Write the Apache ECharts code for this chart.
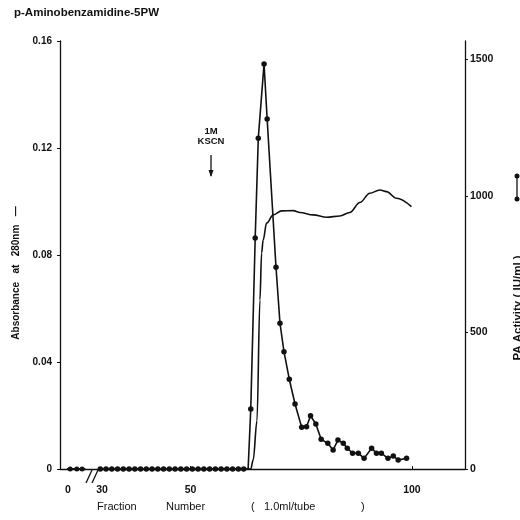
<!DOCTYPE html>
<html><head><meta charset="utf-8">
<script src="https://cdn.jsdelivr.net/npm/echarts@6/dist/echarts.min.js"></script>
<style>html,body{margin:0;padding:0;background:#fff}#c{width:520px;height:520px}</style>
</head><body><div id="c"></div>
<script>
// ---- data ----
const titleText = 'p-Aminobenzamidine-5PW';
const xTickFractions = [0, 30, 50, 100];
const xTickLabels = ['0', '30', '50', '100'];
const absTicks = [0, 0.04, 0.08, 0.12, 0.16];
const paTicks = [0, 500, 1000, 1500];

// before the axis break (fractions 0..4)
const preFractions = [-0.2, 0.5, 2, 3.2, 3.9];
const prePA = [0, 0, 0, 0, 0];
const preDots = [false, true, true, true, false];

// PA activity (IU/ml), right axis
const paFractions = [29.6, 30.9, 32.2, 33.5, 34.8, 36.1, 37.4, 38.7, 40.0, 41.3, 42.6, 43.9, 45.2, 46.5, 47.8, 49.1, 50.4, 51.7, 53.0, 54.3, 55.6, 56.9, 58.2, 59.5, 60.8, 62.0, 63.0,
  63.6, 64.6, 65.3, 66.6, 67.3, 69.3, 70.2, 71.1, 72.3, 73.6,
  75.1, 76.2, 77.1, 78.3, 79.5, 81.0, 82.2, 83.3, 84.5, 85.4,
  86.6, 87.9, 89.2, 90.9, 92.0, 93.1, 94.6, 95.8, 96.9, 98.8];
const paValues = [0,0,0,0,0,0,0,0,0,0,0,0,0,0,0,0,0,0,0,0,0,0,0,0,0,0,0,
  220, 846, 1212, 1484, 1282, 739, 534, 430, 329, 238,
  153, 155, 195, 165, 109, 94, 70, 106, 94, 76,
  58, 58, 39, 76, 58, 58, 39, 48, 33, 39];
const paNoDot = [63.0];

// Absorbance at 280nm, left axis
const absFractions = [29.4, 63.6, 64.15, 65.0, 65.67, 66.05, 66.4, 67.17, 68.67, 70.56, 73.18, 74.7, 77.7, 80.72, 83.72, 85.98, 88.24, 90.5, 92.75, 94.27, 96.52, 99.9];
const absValues = [0, 0, 0.0034, 0.018, 0.0632, 0.0808, 0.0856, 0.0919, 0.095, 0.0965, 0.0966, 0.0959, 0.095, 0.0941, 0.0946, 0.0959, 0.0996, 0.1031, 0.1043, 0.1037, 0.1012, 0.0981];

// ---- axis break: fractions below 30 are shifted next to 30 ----
const BREAK_SHIFT = 22.3;
const toU = f => (f < 25 ? f + BREAK_SHIFT : f);

const ink = '#111';
const font = '"Liberation Sans", Arial, Helvetica, sans-serif';

const chart = echarts.init(document.getElementById('c'), null, {renderer: 'canvas'});

const preData = preFractions.map((f, i) => ({value: [toU(f), prePA[i]], symbol: preDots[i] ? 'circle' : 'none'}));
const paData = paFractions.map((f, i) => ({value: [toU(f), paValues[i]], symbol: paNoDot.includes(f) ? 'none' : 'circle'}));
const absData = absFractions.map((f, i) => [toU(f), absValues[i]]);
const absPre = [[toU(-0.2), 0], [toU(3.9), 0]];

const xTickU = xTickFractions.map(toU);

const txt = (x, y, text, size, extra) => Object.assign({type: 'text', x: x, y: y,
  style: {text: text, font: size + ' ' + font, fill: ink, textAlign: 'left', textVerticalAlign: 'middle'}}, extra || {});

chart.setOption({
  animation: false,
  backgroundColor: '#fff',
  grid: {left: 60, right: 55, top: 41, bottom: 51, containLabel: false},
  xAxis: {
    type: 'value', min: 20.5, max: 112, offset: 8,
    axisLine: {show: true, lineStyle: {color: ink, width: 1.3}},
    axisTick: {show: true, inside: true, length: 3, customValues: [xTickU[2], xTickU[3]], lineStyle: {color: ink}},
    axisLabel: {
      show: true, customValues: xTickU, margin: 8, color: ink, fontSize: 10.5, fontFamily: font, fontWeight: 'bold',
      formatter: v => { const i = xTickU.findIndex(u => Math.abs(u - v) < 0.01); return i >= 0 ? xTickLabels[i] : ''; }
    },
    splitLine: {show: false}
  },
  yAxis: [
    {
      type: 'value', min: 0, max: 0.16, interval: 0.04, position: 'left',
      axisLine: {show: true, lineStyle: {color: ink, width: 1.3}},
      axisTick: {show: true, length: 3, lineStyle: {color: ink}},
      axisLabel: {color: ink, fontSize: 10, fontFamily: font, fontWeight: 'bold', margin: 8,
        formatter: v => (v === 0 ? '0' : v.toFixed(2))},
      splitLine: {show: false}
    },
    {
      type: 'value', min: 0, max: 1568, position: 'right',
      axisLine: {show: true, lineStyle: {color: ink, width: 1.3}},
      axisTick: {show: true, length: 3, customValues: paTicks, lineStyle: {color: ink}},
      axisLabel: {color: ink, fontSize: 10.5, fontFamily: font, fontWeight: 'bold', margin: 5, customValues: paTicks,
        formatter: v => String(v)},
      splitLine: {show: false}
    }
  ],
  series: [
    {type: 'line', name: 'Absorbance pre', yAxisIndex: 0, data: absPre, symbol: 'none',
      lineStyle: {color: ink, width: 1.5}},
    {type: 'line', name: 'Absorbance at 280nm', yAxisIndex: 0, data: absData, symbol: 'none',
      smooth: 0.35, smoothMonotone: 'x', lineStyle: {color: ink, width: 1.6}},
    {type: 'line', name: 'PA pre', yAxisIndex: 1, data: preData, symbolSize: 5, itemStyle: {color: ink},
      lineStyle: {color: ink, width: 1.5}},
    {type: 'line', name: 'PA Activity', yAxisIndex: 1, data: paData, symbolSize: 5.5, itemStyle: {color: ink},
      lineStyle: {color: ink, width: 1.6}}
  ],
  graphic: [
    {type: 'text', left: 14, top: 7, style: {text: titleText, font: 'bold 11.5px ' + font, fill: ink}},
    // axis break marks and trimmed start of the x axis line
    {type: 'rect', shape: {x: 58, y: 474, width: 9, height: 7}, style: {fill: '#fff'}, z: 100},
    {type: 'rect', shape: {x: 86, y: 472, width: 11, height: 10}, style: {fill: '#fff'}, z: 100},
    {type: 'line', shape: {x1: 86, y1: 483, x2: 92, y2: 470}, style: {stroke: ink, lineWidth: 1.3}, z: 101},
    {type: 'line', shape: {x1: 92, y1: 483, x2: 98, y2: 470}, style: {stroke: ink, lineWidth: 1.3}, z: 101},
    // KSCN annotation
    {type: 'text', x: 211, y: 131, style: {text: '1M', font: 'bold 9.5px ' + font, fill: ink, textAlign: 'center', textVerticalAlign: 'middle'}},
    {type: 'text', x: 211, y: 141, style: {text: 'KSCN', font: 'bold 9.5px ' + font, fill: ink, textAlign: 'center', textVerticalAlign: 'middle'}},
    {type: 'line', shape: {x1: 211, y1: 155, x2: 211, y2: 176}, style: {stroke: ink, lineWidth: 1.3}},
    {type: 'polygon', shape: {points: [[208.5, 170], [213.5, 170], [211, 177]]}, style: {fill: ink}},
    // axis titles
    {type: 'text', x: 16, y: 273, rotation: Math.PI / 2,
      style: {text: 'Absorbance   at   280nm   \u2014', font: 'bold 10px ' + font, fill: ink, textAlign: 'center', textVerticalAlign: 'middle'}},
    {type: 'text', x: 518, y: 308, rotation: Math.PI / 2,
      style: {text: 'PA Activity ( IU/ml )', font: 'bold 11.5px ' + font, fill: ink, textAlign: 'center', textVerticalAlign: 'middle'}},
    {type: 'line', shape: {x1: 517, y1: 176, x2: 517, y2: 199}, style: {stroke: ink, lineWidth: 1.3}},
    {type: 'circle', shape: {cx: 517, cy: 176, r: 2.5}, style: {fill: ink}},
    {type: 'circle', shape: {cx: 517, cy: 199, r: 2.5}, style: {fill: ink}},
    // x axis title
    txt(97, 507, 'Fraction', '11px'),
    txt(166, 507, 'Number', '11px'),
    txt(251, 507, '(', '11px'),
    txt(264, 507, '1.0ml/tube', '11px'),
    txt(361, 507, ')', '11px')
  ]
});
</script></body></html>
